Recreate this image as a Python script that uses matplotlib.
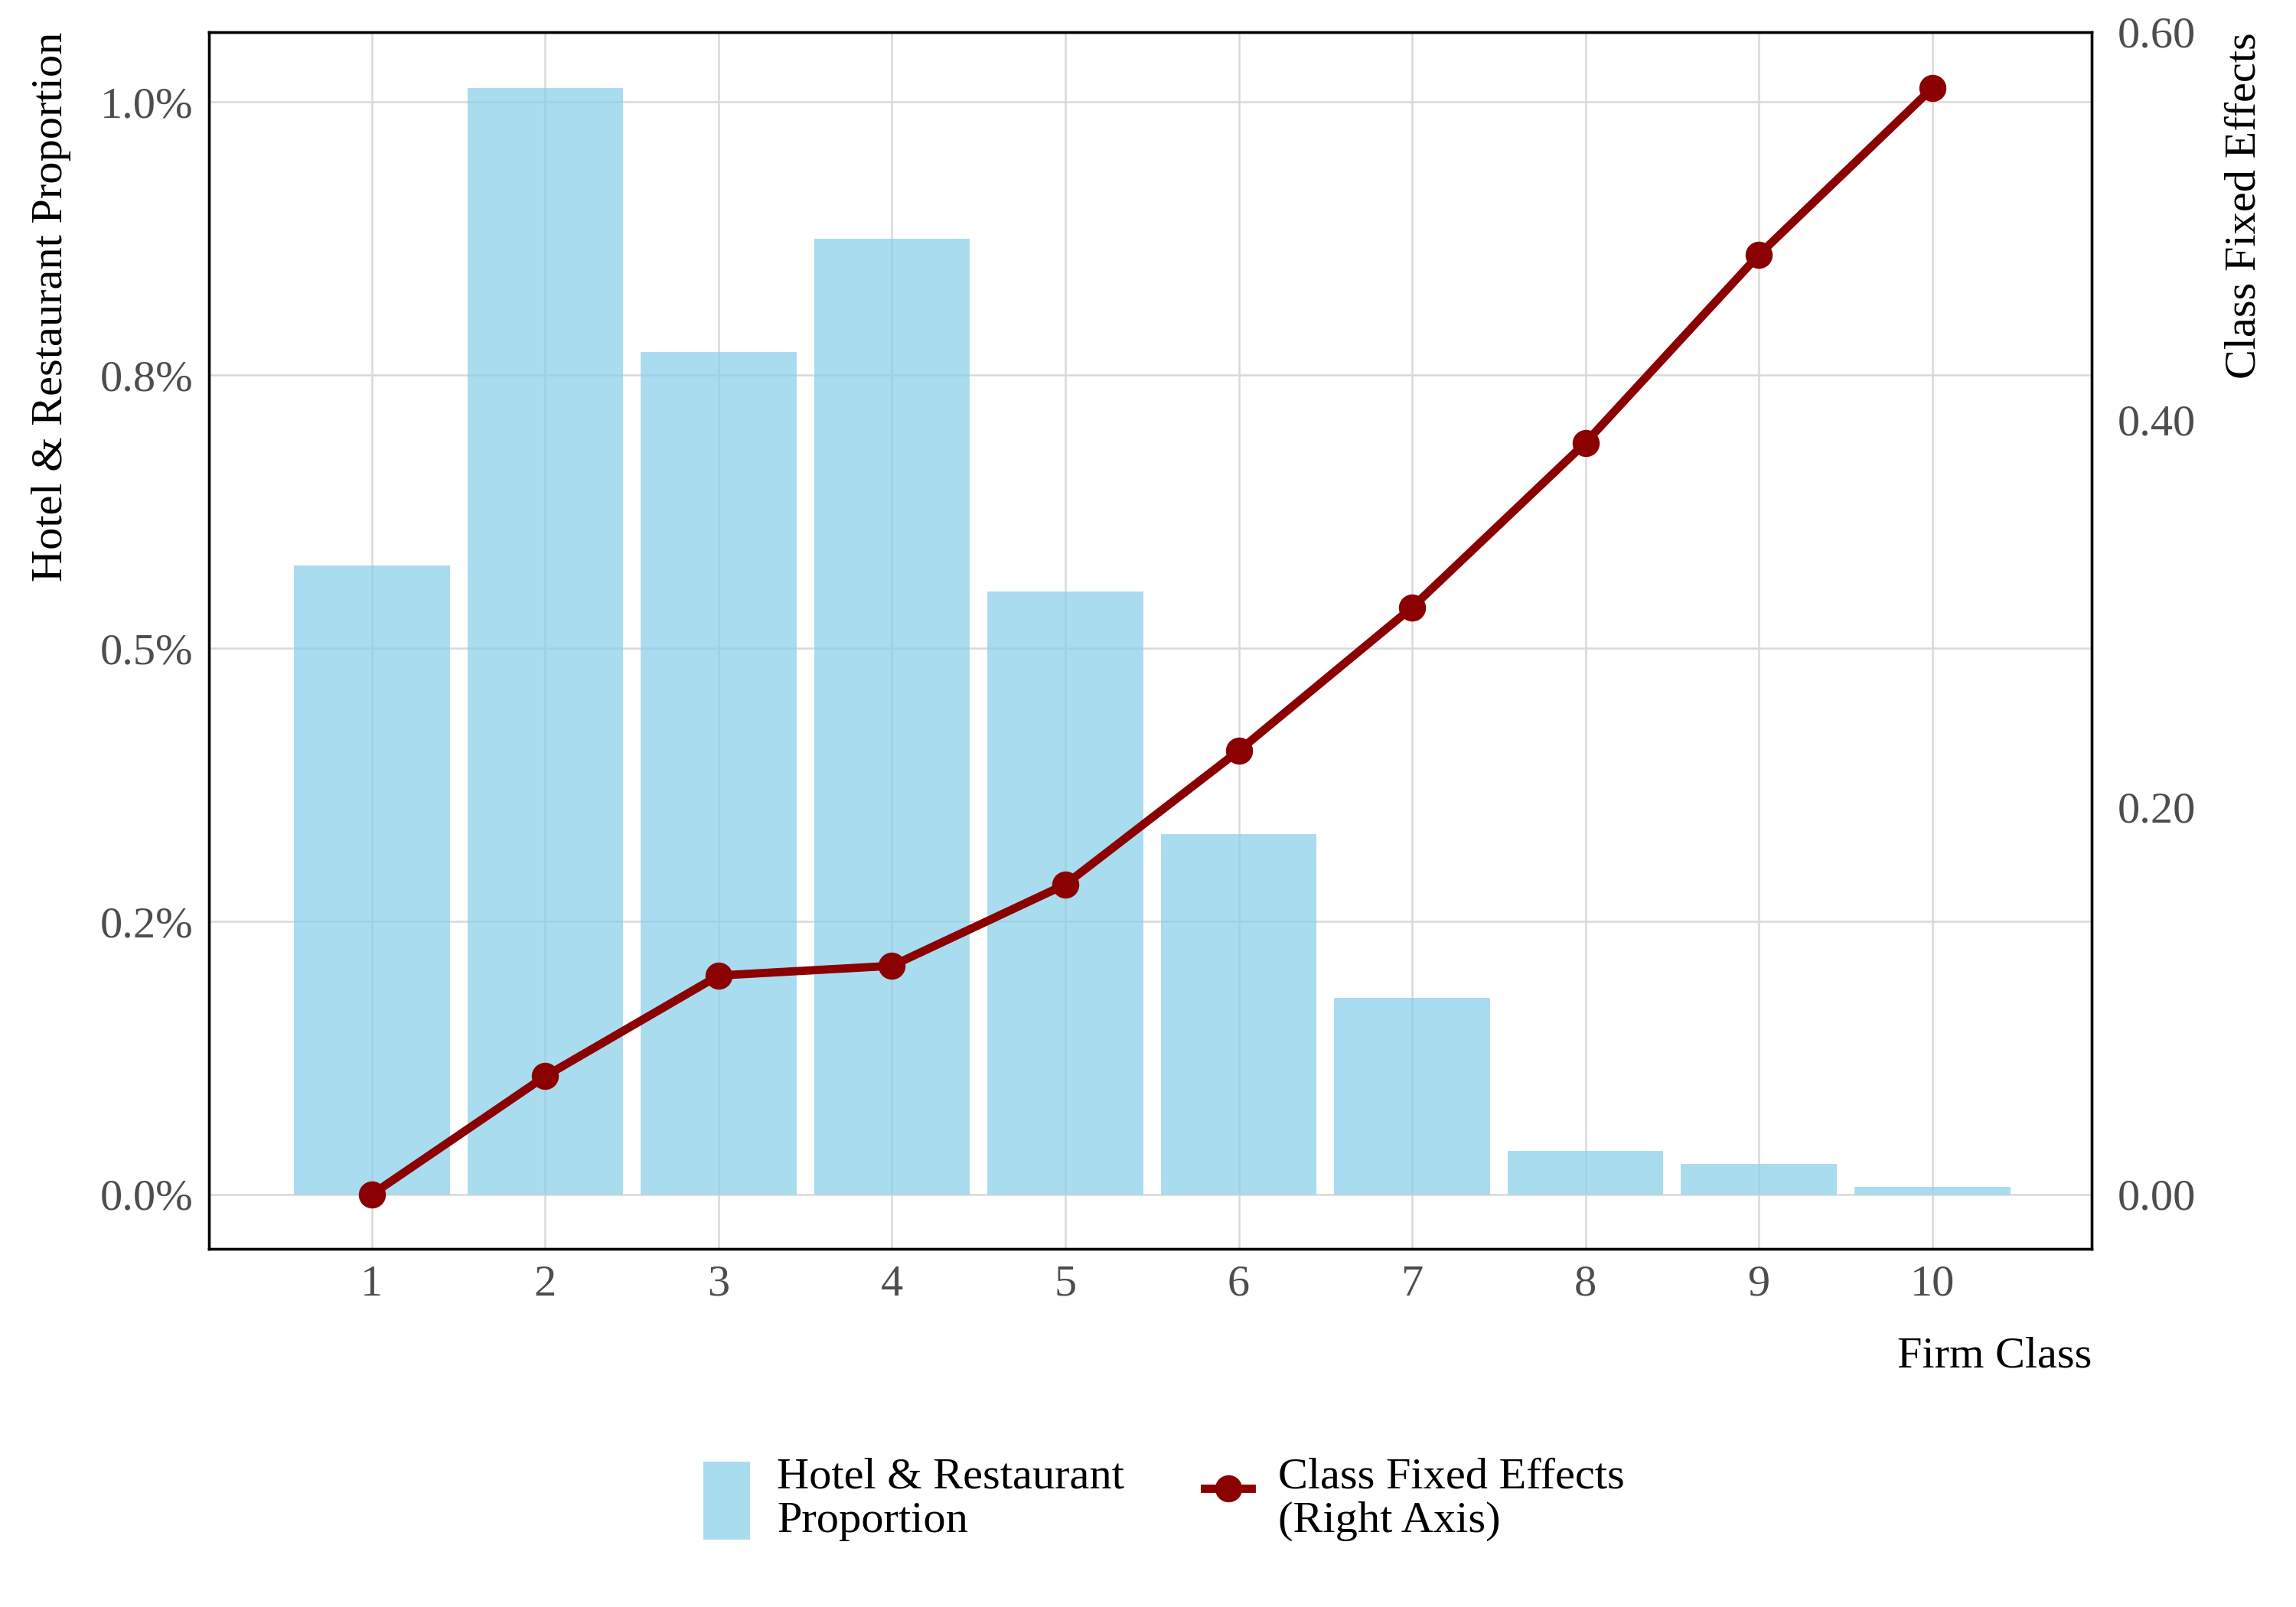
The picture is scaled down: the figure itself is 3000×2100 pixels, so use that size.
import numpy as np
import matplotlib
matplotlib.use("Agg")
import matplotlib.pyplot as plt
from matplotlib.ticker import FuncFormatter

plt.rcParams['font.family'] = ['Liberation Serif', 'DejaVu Serif']

# data
firm_class = [1, 2, 3, 4, 5, 6, 7, 8, 9, 10]
hotel_pct = [0.576, 1.013, 0.771, 0.875, 0.552, 0.330, 0.180, 0.040, 0.028, 0.007]  # percent
class_fe = [0.000, 0.061, 0.113, 0.118, 0.160, 0.229, 0.303, 0.388, 0.485, 0.571]
left_ticks = [0.0, 0.25, 0.5, 0.75, 1.0]
right_ticks = [0.0, 0.2, 0.4, 0.6]

tick_col = '#4D4D4D'
fs = 14

fig = plt.figure(figsize=(10, 7), dpi=300)
ax = fig.add_axes([0.091, 0.223, 0.820, 0.757])
ax2 = ax.twinx()

ax.bar(firm_class, hotel_pct, width=0.9, color='skyblue', alpha=0.7,
       label='Hotel & Restaurant\nProportion', zorder=2)
ax2.plot(firm_class, class_fe, color='darkred', lw=2.6, marker='o', ms=7.5,
         label='Class Fixed Effects\n(Right Axis)')

ax.set_xlim(0.06, 10.92)
ax.set_ylim(-0.0496, 1.064)
ax2.set_ylim(-0.028, 0.60)

ax.set_xticks(firm_class)
ax.set_yticks(left_ticks)
ax2.set_yticks(right_ticks)
ax.yaxis.set_major_formatter(FuncFormatter(lambda v, p: f"{v:.1f}%"))
ax2.yaxis.set_major_formatter(FuncFormatter(lambda v, p: f"{v:.2f}"))

ax.grid(True, color='#D9D9D9', lw=0.6, zorder=0)
ax.set_axisbelow(True)

for a in (ax, ax2):
    a.tick_params(length=0, labelsize=fs, labelcolor=tick_col)
    for s in a.spines.values():
        s.set_color('black')
        s.set_linewidth(0.8)
ax.tick_params(axis='x', pad=5)
ax.tick_params(axis='y', pad=5)
ax2.tick_params(axis='y', pad=8)

ax.set_xlabel('Firm Class', fontsize=fs, loc='right', labelpad=10)
ax.set_ylabel('Hotel & Restaurant Proportion', fontsize=fs, loc='top', labelpad=9)
ax2.set_ylabel('Class Fixed Effects', fontsize=fs, loc='top', labelpad=9)

h1, l1 = ax.get_legend_handles_labels()
h2, l2 = ax2.get_legend_handles_labels()
leg = fig.legend(h1 + h2, l1 + l2, loc='center', bbox_to_anchor=(0.507, 0.067), ncol=2,
                 frameon=False, fontsize=fs, handlelength=1.05, handleheight=2.3,
                 handletextpad=0.6, columnspacing=1.8)
for t in leg.get_texts():
    t.set_linespacing(1.15)

fig.savefig('out.png', dpi=300)
